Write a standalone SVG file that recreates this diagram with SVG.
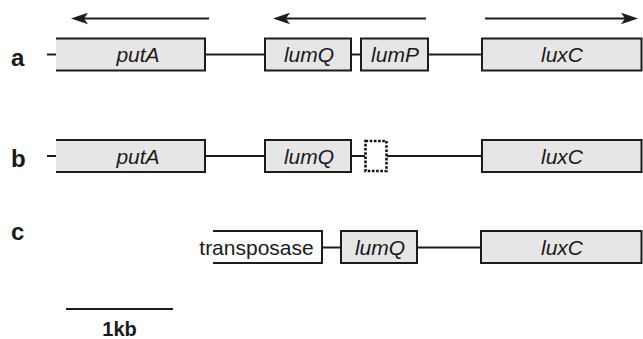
<svg xmlns="http://www.w3.org/2000/svg" width="643" height="339" viewBox="0 0 643 339">
<style>
.gene{fill:#e6e6e6;stroke:#1c1c1c;stroke-width:2}
.fillonly{fill:#e6e6e6;stroke:none}
.white{fill:#ffffff;stroke:none}
.edge{fill:none;stroke:#1c1c1c;stroke-width:2}
.ln{stroke:#1c1c1c;stroke-width:2;fill:none}
.dot{fill:none;stroke:#111;stroke-width:2.6;stroke-dasharray:2.6 1.6}
.gl{font-family:"Liberation Sans",Arial,sans-serif;font-style:italic;font-size:21px;fill:#1a1a1a;text-anchor:middle}
.pl{font-family:"Liberation Sans",Arial,sans-serif;font-size:21px;fill:#1a1a1a;text-anchor:middle}
.lab{font-family:"Liberation Sans",Arial,sans-serif;font-weight:bold;font-size:24px;fill:#1a1a1a}
</style>
<defs>
<marker id="ah" viewBox="0 -6 17 12" refX="6" refY="0" markerWidth="17" markerHeight="12" markerUnits="userSpaceOnUse" orient="auto">
<path d="M17,0 L0,-5.8 L4,0 L0,5.8 Z" fill="#1c1c1c"/>
</marker>
</defs>

<g id="connectors">
<line class="ln" x1="209" y1="18.5" x2="82" y2="18.5" marker-end="url(#ah)"/>
<line class="ln" x1="426" y1="18.5" x2="284" y2="18.5" marker-end="url(#ah)"/>
<line class="ln" x1="485" y1="18.5" x2="627" y2="18.5" marker-end="url(#ah)"/>
<!-- row a -->
<line class="ln" x1="47" y1="54.5" x2="56" y2="54.5"/>
<line class="ln" x1="205" y1="54.5" x2="265" y2="54.5"/>
<line class="ln" x1="351" y1="54.5" x2="361" y2="54.5"/>
<line class="ln" x1="428" y1="54.5" x2="482" y2="54.5"/>
<!-- row b -->
<line class="ln" x1="47" y1="156" x2="56" y2="156"/>
<line class="ln" x1="205" y1="156" x2="265" y2="156"/>
<line class="ln" x1="351" y1="156" x2="365" y2="156"/>
<line class="ln" x1="387" y1="156" x2="482" y2="156"/>
<!-- row c -->
<line class="ln" x1="322" y1="247.5" x2="341" y2="247.5"/>
<line class="ln" x1="417" y1="247.5" x2="481" y2="247.5"/>
<!-- scale bar -->
<line class="ln" x1="66" y1="309" x2="173" y2="309"/>
</g>

<g id="label-a"><text class="lab" x="11" y="66">a</text></g>
<g id="label-b"><text class="lab" x="11" y="167">b</text></g>
<g id="label-c"><text class="lab" x="11" y="240">c</text></g>

<g id="a-putA">
<rect class="fillonly" x="56" y="38.5" width="149" height="32"/>
<path class="edge" d="M56,38.5 H205 V70.5 H56"/>
<text class="gl" x="138" y="62">putA</text>
</g>
<g id="a-lumQ">
<rect class="gene" x="265" y="38.5" width="86" height="32"/>
<text class="gl" x="309" y="62">lumQ</text>
</g>
<g id="a-lumP">
<rect class="gene" x="361" y="38.5" width="67" height="32"/>
<text class="gl" x="395" y="62">lumP</text>
</g>
<g id="a-luxC">
<rect class="gene" x="482" y="38.5" width="159.5" height="32"/>
<text class="gl" x="562" y="62">luxC</text>
</g>

<g id="b-putA">
<rect class="fillonly" x="56" y="140" width="149" height="32"/>
<path class="edge" d="M56,140 H205 V172 H56"/>
<text class="gl" x="138" y="163.5">putA</text>
</g>
<g id="b-lumQ">
<rect class="gene" x="265" y="140" width="86" height="32"/>
<text class="gl" x="309" y="163.5">lumQ</text>
</g>
<g id="b-deleted">
<rect class="dot" x="365.5" y="141" width="21" height="30"/>
</g>
<g id="b-luxC">
<rect class="gene" x="482" y="140" width="159.5" height="32"/>
<text class="gl" x="562" y="163.5">luxC</text>
</g>

<g id="c-transposase">
<rect class="white" x="213" y="231" width="109" height="32"/>
<path class="edge" d="M213,231 H322 V263 H213"/>
<text class="pl" x="256.5" y="254.5">transposase</text>
</g>
<g id="c-lumQ">
<rect class="gene" x="341" y="231" width="76" height="32"/>
<text class="gl" x="380" y="254.5">lumQ</text>
</g>
<g id="c-luxC">
<rect class="gene" x="481" y="231" width="160.5" height="32"/>
<text class="gl" x="562" y="254.5">luxC</text>
</g>

<g id="scale-label"><text class="lab" x="119.5" y="336" text-anchor="middle" style="font-size:20px">1kb</text></g>
</svg>
